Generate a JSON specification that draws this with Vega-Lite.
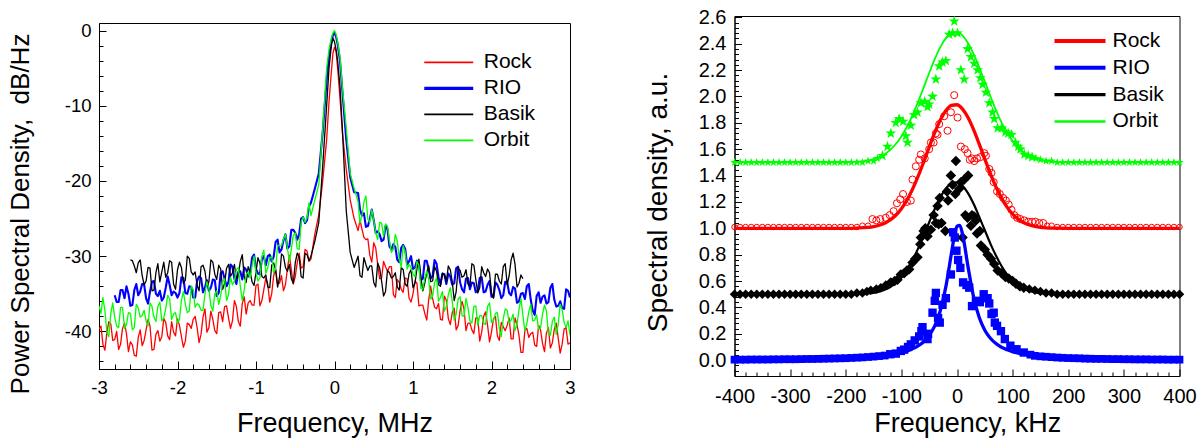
{
"$schema": "https://vega.github.io/schema/vega-lite/v6.json",
"padding": {"left": 7, "top": 6, "right": 5, "bottom": 5},
"bounds": "flush",
"center": true,
"spacing": 164.5,
"resolve": {"scale": {"color": "independent", "strokeWidth": "independent"}, "legend": {"color": "independent"}},
"config": {
  "font": "Liberation Sans",
  "view": {"stroke": "#000", "strokeWidth": 1},
  "axis": {"grid": false, "domainColor": "#000", "domainWidth": 1, "tickColor": "#000", "tickWidth": 1, "labelColor": "#000", "titleColor": "#000", "labelFont": "Liberation Sans", "titleFont": "Liberation Sans", "titleFontWeight": "normal", "labelFlush": false, "labelOverlap": false, "labelBound": false},
  "legend": {"labelFont": "Liberation Sans", "labelColor": "#000", "labelFontSize": 21, "padding": 0}
},
"datasets": {
"psd": [
{"s":"Rock","f":-3.00,"v":-39.7},{"s":"Rock","f":-2.95,"v":-41.7},{"s":"Rock","f":-2.90,"v":-40.2},{"s":"Rock","f":-2.85,"v":-39.0},{"s":"Rock","f":-2.80,"v":-41.1},{"s":"Rock","f":-2.75,"v":-42.4},{"s":"Rock","f":-2.70,"v":-39.6},{"s":"Rock","f":-2.65,"v":-40.3},{"s":"Rock","f":-2.60,"v":-41.4},{"s":"Rock","f":-2.55,"v":-43.2},{"s":"Rock","f":-2.50,"v":-40.8},{"s":"Rock","f":-2.45,"v":-41.9},{"s":"Rock","f":-2.40,"v":-39.8},{"s":"Rock","f":-2.35,"v":-39.3},{"s":"Rock","f":-2.30,"v":-42.4},{"s":"Rock","f":-2.25,"v":-39.9},{"s":"Rock","f":-2.20,"v":-40.7},{"s":"Rock","f":-2.15,"v":-38.8},{"s":"Rock","f":-2.10,"v":-41.1},{"s":"Rock","f":-2.05,"v":-40.1},{"s":"Rock","f":-2.00,"v":-38.3},{"s":"Rock","f":-1.95,"v":-40.7},{"s":"Rock","f":-1.90,"v":-41.3},{"s":"Rock","f":-1.85,"v":-39.1},{"s":"Rock","f":-1.80,"v":-38.4},{"s":"Rock","f":-1.75,"v":-39.5},{"s":"Rock","f":-1.70,"v":-40.4},{"s":"Rock","f":-1.65,"v":-37.0},{"s":"Rock","f":-1.60,"v":-39.5},{"s":"Rock","f":-1.55,"v":-38.4},{"s":"Rock","f":-1.50,"v":-40.3},{"s":"Rock","f":-1.45,"v":-37.4},{"s":"Rock","f":-1.40,"v":-36.7},{"s":"Rock","f":-1.35,"v":-38.2},{"s":"Rock","f":-1.30,"v":-38.6},{"s":"Rock","f":-1.25,"v":-36.7},{"s":"Rock","f":-1.20,"v":-39.3},{"s":"Rock","f":-1.15,"v":-35.4},{"s":"Rock","f":-1.10,"v":-36.2},{"s":"Rock","f":-1.05,"v":-36.5},{"s":"Rock","f":-1.00,"v":-33.9},{"s":"Rock","f":-0.95,"v":-36.6},{"s":"Rock","f":-0.90,"v":-34.4},{"s":"Rock","f":-0.85,"v":-33.7},{"s":"Rock","f":-0.80,"v":-35.0},{"s":"Rock","f":-0.75,"v":-31.7},{"s":"Rock","f":-0.70,"v":-33.6},{"s":"Rock","f":-0.65,"v":-34.6},{"s":"Rock","f":-0.60,"v":-31.7},{"s":"Rock","f":-0.55,"v":-31.8},{"s":"Rock","f":-0.50,"v":-32.7},{"s":"Rock","f":-0.45,"v":-29.6},{"s":"Rock","f":-0.40,"v":-31.4},{"s":"Rock","f":-0.35,"v":-29.3},{"s":"Rock","f":-0.30,"v":-30.4},
{"s":"Rock","f":-0.25,"v":-27.0},{"s":"Rock","f":-0.20,"v":-24.5},{"s":"Rock","f":-0.15,"v":-20.0},{"s":"Rock","f":-0.10,"v":-14.5},{"s":"Rock","f":-0.07,"v":-9.5},{"s":"Rock","f":-0.04,"v":-5.5},{"s":"Rock","f":-0.02,"v":-3.0},{"s":"Rock","f":0.00,"v":-2.2},{"s":"Rock","f":0.02,"v":-2.8},{"s":"Rock","f":0.04,"v":-5.0},{"s":"Rock","f":0.07,"v":-9.0},{"s":"Rock","f":0.10,"v":-13.5},{"s":"Rock","f":0.15,"v":-18.5},{"s":"Rock","f":0.20,"v":-22.5},{"s":"Rock","f":0.25,"v":-25.0},
{"s":"Rock","f":0.30,"v":-26.6},{"s":"Rock","f":0.35,"v":-26.4},{"s":"Rock","f":0.40,"v":-27.8},{"s":"Rock","f":0.45,"v":-29.9},{"s":"Rock","f":0.50,"v":-28.2},{"s":"Rock","f":0.55,"v":-31.1},{"s":"Rock","f":0.60,"v":-32.9},{"s":"Rock","f":0.65,"v":-31.4},{"s":"Rock","f":0.70,"v":-31.4},{"s":"Rock","f":0.75,"v":-35.1},{"s":"Rock","f":0.80,"v":-33.1},{"s":"Rock","f":0.85,"v":-34.4},{"s":"Rock","f":0.90,"v":-32.9},{"s":"Rock","f":0.95,"v":-35.6},{"s":"Rock","f":1.00,"v":-35.0},{"s":"Rock","f":1.05,"v":-33.6},{"s":"Rock","f":1.10,"v":-36.5},{"s":"Rock","f":1.15,"v":-37.6},{"s":"Rock","f":1.20,"v":-35.8},{"s":"Rock","f":1.25,"v":-35.6},{"s":"Rock","f":1.30,"v":-37.0},{"s":"Rock","f":1.35,"v":-38.4},{"s":"Rock","f":1.40,"v":-35.3},{"s":"Rock","f":1.45,"v":-38.3},{"s":"Rock","f":1.50,"v":-37.5},{"s":"Rock","f":1.55,"v":-39.8},{"s":"Rock","f":1.60,"v":-37.2},{"s":"Rock","f":1.65,"v":-37.0},{"s":"Rock","f":1.70,"v":-38.9},{"s":"Rock","f":1.75,"v":-39.8},{"s":"Rock","f":1.80,"v":-38.2},{"s":"Rock","f":1.85,"v":-41.3},{"s":"Rock","f":1.90,"v":-38.0},{"s":"Rock","f":1.95,"v":-39.2},{"s":"Rock","f":2.00,"v":-40.1},{"s":"Rock","f":2.05,"v":-38.0},{"s":"Rock","f":2.10,"v":-41.2},{"s":"Rock","f":2.15,"v":-39.4},{"s":"Rock","f":2.20,"v":-39.2},{"s":"Rock","f":2.25,"v":-41.0},{"s":"Rock","f":2.30,"v":-38.2},{"s":"Rock","f":2.35,"v":-40.5},{"s":"Rock","f":2.40,"v":-42.8},{"s":"Rock","f":2.45,"v":-39.6},{"s":"Rock","f":2.50,"v":-40.3},{"s":"Rock","f":2.55,"v":-41.8},{"s":"Rock","f":2.60,"v":-39.2},{"s":"Rock","f":2.65,"v":-41.6},{"s":"Rock","f":2.70,"v":-40.2},{"s":"Rock","f":2.75,"v":-42.2},{"s":"Rock","f":2.80,"v":-39.7},{"s":"Rock","f":2.85,"v":-40.9},{"s":"Rock","f":2.90,"v":-41.7},{"s":"Rock","f":2.95,"v":-39.5},{"s":"Rock","f":3.00,"v":-41.5},
{"s":"RIO","f":-2.80,"v":-35.2},{"s":"RIO","f":-2.75,"v":-36.1},{"s":"RIO","f":-2.70,"v":-34.5},{"s":"RIO","f":-2.65,"v":-34.0},{"s":"RIO","f":-2.60,"v":-36.6},{"s":"RIO","f":-2.55,"v":-34.5},{"s":"RIO","f":-2.50,"v":-35.2},{"s":"RIO","f":-2.45,"v":-33.7},{"s":"RIO","f":-2.40,"v":-35.6},{"s":"RIO","f":-2.35,"v":-34.7},{"s":"RIO","f":-2.30,"v":-33.3},{"s":"RIO","f":-2.25,"v":-35.3},{"s":"RIO","f":-2.20,"v":-35.9},{"s":"RIO","f":-2.15,"v":-34.2},{"s":"RIO","f":-2.10,"v":-33.8},{"s":"RIO","f":-2.05,"v":-34.7},{"s":"RIO","f":-2.00,"v":-35.5},{"s":"RIO","f":-1.95,"v":-32.8},{"s":"RIO","f":-1.90,"v":-34.9},{"s":"RIO","f":-1.85,"v":-34.0},{"s":"RIO","f":-1.80,"v":-35.5},{"s":"RIO","f":-1.75,"v":-33.3},{"s":"RIO","f":-1.70,"v":-32.9},{"s":"RIO","f":-1.65,"v":-34.1},{"s":"RIO","f":-1.60,"v":-34.6},{"s":"RIO","f":-1.55,"v":-33.1},{"s":"RIO","f":-1.50,"v":-35.3},{"s":"RIO","f":-1.45,"v":-32.3},{"s":"RIO","f":-1.40,"v":-33.0},{"s":"RIO","f":-1.35,"v":-33.4},{"s":"RIO","f":-1.30,"v":-31.4},{"s":"RIO","f":-1.25,"v":-33.7},{"s":"RIO","f":-1.20,"v":-32.0},{"s":"RIO","f":-1.15,"v":-31.5},{"s":"RIO","f":-1.10,"v":-32.7},{"s":"RIO","f":-1.05,"v":-30.2},{"s":"RIO","f":-1.00,"v":-31.7},{"s":"RIO","f":-0.95,"v":-32.4},{"s":"RIO","f":-0.90,"v":-30.0},{"s":"RIO","f":-0.85,"v":-30.0},{"s":"RIO","f":-0.80,"v":-30.7},{"s":"RIO","f":-0.75,"v":-28.1},{"s":"RIO","f":-0.70,"v":-29.5},{"s":"RIO","f":-0.65,"v":-27.9},{"s":"RIO","f":-0.60,"v":-29.0},{"s":"RIO","f":-0.55,"v":-26.5},{"s":"RIO","f":-0.50,"v":-26.9},{"s":"RIO","f":-0.45,"v":-27.1},{"s":"RIO","f":-0.40,"v":-24.8},{"s":"RIO","f":-0.35,"v":-25.2},{"s":"RIO","f":-0.30,"v":-22.9},
{"s":"RIO","f":-0.25,"v":-21.0},{"s":"RIO","f":-0.20,"v":-19.0},{"s":"RIO","f":-0.15,"v":-13.5},{"s":"RIO","f":-0.10,"v":-6.5},{"s":"RIO","f":-0.07,"v":-3.5},{"s":"RIO","f":-0.04,"v":-1.5},{"s":"RIO","f":-0.02,"v":-0.6},{"s":"RIO","f":0.00,"v":-0.3},{"s":"RIO","f":0.02,"v":-0.8},{"s":"RIO","f":0.04,"v":-1.8},{"s":"RIO","f":0.07,"v":-4.0},{"s":"RIO","f":0.10,"v":-8.0},{"s":"RIO","f":0.15,"v":-14.5},{"s":"RIO","f":0.20,"v":-19.5},{"s":"RIO","f":0.25,"v":-21.5},
{"s":"RIO","f":0.30,"v":-21.6},{"s":"RIO","f":0.35,"v":-24.6},{"s":"RIO","f":0.40,"v":-26.1},{"s":"RIO","f":0.45,"v":-25.1},{"s":"RIO","f":0.50,"v":-25.2},{"s":"RIO","f":0.55,"v":-26.7},{"s":"RIO","f":0.60,"v":-28.0},{"s":"RIO","f":0.65,"v":-26.0},{"s":"RIO","f":0.70,"v":-28.7},{"s":"RIO","f":0.75,"v":-28.4},{"s":"RIO","f":0.80,"v":-30.5},{"s":"RIO","f":0.85,"v":-28.9},{"s":"RIO","f":0.90,"v":-29.0},{"s":"RIO","f":0.95,"v":-30.7},{"s":"RIO","f":1.00,"v":-31.7},{"s":"RIO","f":1.05,"v":-30.6},{"s":"RIO","f":1.10,"v":-33.2},{"s":"RIO","f":1.15,"v":-30.6},{"s":"RIO","f":1.20,"v":-31.8},{"s":"RIO","f":1.25,"v":-32.6},{"s":"RIO","f":1.30,"v":-31.0},{"s":"RIO","f":1.35,"v":-33.7},{"s":"RIO","f":1.40,"v":-32.4},{"s":"RIO","f":1.45,"v":-32.3},{"s":"RIO","f":1.50,"v":-33.8},{"s":"RIO","f":1.55,"v":-31.6},{"s":"RIO","f":1.60,"v":-33.5},{"s":"RIO","f":1.65,"v":-34.8},{"s":"RIO","f":1.70,"v":-32.9},{"s":"RIO","f":1.75,"v":-33.5},{"s":"RIO","f":1.80,"v":-34.8},{"s":"RIO","f":1.85,"v":-32.9},{"s":"RIO","f":1.90,"v":-34.8},{"s":"RIO","f":1.95,"v":-33.8},{"s":"RIO","f":2.00,"v":-35.4},{"s":"RIO","f":2.05,"v":-33.5},{"s":"RIO","f":2.10,"v":-34.5},{"s":"RIO","f":2.15,"v":-35.2},{"s":"RIO","f":2.20,"v":-33.5},{"s":"RIO","f":2.25,"v":-35.2},{"s":"RIO","f":2.30,"v":-34.3},{"s":"RIO","f":2.35,"v":-36.0},{"s":"RIO","f":2.40,"v":-34.9},{"s":"RIO","f":2.45,"v":-34.0},{"s":"RIO","f":2.50,"v":-35.8},{"s":"RIO","f":2.55,"v":-37.8},{"s":"RIO","f":2.60,"v":-34.8},{"s":"RIO","f":2.65,"v":-35.4},{"s":"RIO","f":2.70,"v":-36.3},{"s":"RIO","f":2.75,"v":-34.2},{"s":"RIO","f":2.80,"v":-35.8},{"s":"RIO","f":2.85,"v":-36.6},{"s":"RIO","f":2.90,"v":-36.9},{"s":"RIO","f":2.95,"v":-34.4},{"s":"RIO","f":3.00,"v":-35.5},
{"s":"Basik","f":-2.60,"v":-30.5},{"s":"Basik","f":-2.55,"v":-31.3},{"s":"Basik","f":-2.50,"v":-30.9},{"s":"Basik","f":-2.45,"v":-32.6},{"s":"Basik","f":-2.40,"v":-33.3},{"s":"Basik","f":-2.35,"v":-31.6},{"s":"Basik","f":-2.30,"v":-34.5},{"s":"Basik","f":-2.25,"v":-31.0},{"s":"Basik","f":-2.20,"v":-32.1},{"s":"Basik","f":-2.15,"v":-32.8},{"s":"Basik","f":-2.10,"v":-30.6},{"s":"Basik","f":-2.05,"v":-33.7},{"s":"Basik","f":-2.00,"v":-31.8},{"s":"Basik","f":-1.95,"v":-31.5},{"s":"Basik","f":-1.90,"v":-33.2},{"s":"Basik","f":-1.85,"v":-30.3},{"s":"Basik","f":-1.80,"v":-32.5},{"s":"Basik","f":-1.75,"v":-33.9},{"s":"Basik","f":-1.70,"v":-31.4},{"s":"Basik","f":-1.65,"v":-32.0},{"s":"Basik","f":-1.60,"v":-33.4},{"s":"Basik","f":-1.55,"v":-30.8},{"s":"Basik","f":-1.50,"v":-33.1},{"s":"Basik","f":-1.45,"v":-31.7},{"s":"Basik","f":-1.40,"v":-33.6},{"s":"Basik","f":-1.35,"v":-31.1},{"s":"Basik","f":-1.30,"v":-32.2},{"s":"Basik","f":-1.25,"v":-33.0},{"s":"Basik","f":-1.20,"v":-30.7},{"s":"Basik","f":-1.15,"v":-32.7},{"s":"Basik","f":-1.10,"v":-31.4},{"s":"Basik","f":-1.05,"v":-33.4},{"s":"Basik","f":-1.00,"v":-32.1},{"s":"Basik","f":-0.95,"v":-30.9},{"s":"Basik","f":-0.90,"v":-32.9},{"s":"Basik","f":-0.85,"v":-34.1},{"s":"Basik","f":-0.80,"v":-31.2},{"s":"Basik","f":-0.75,"v":-31.8},{"s":"Basik","f":-0.70,"v":-32.8},{"s":"Basik","f":-0.65,"v":-30.0},{"s":"Basik","f":-0.60,"v":-32.0},{"s":"Basik","f":-0.55,"v":-33.0},{"s":"Basik","f":-0.50,"v":-30.9},{"s":"Basik","f":-0.45,"v":-30.1},{"s":"Basik","f":-0.40,"v":-32.9},{"s":"Basik","f":-0.35,"v":-29.8},{"s":"Basik","f":-0.30,"v":-30.0},
{"s":"Basik","f":-0.25,"v":-28.0},{"s":"Basik","f":-0.20,"v":-25.5},{"s":"Basik","f":-0.15,"v":-18.0},{"s":"Basik","f":-0.10,"v":-10.0},{"s":"Basik","f":-0.07,"v":-5.0},{"s":"Basik","f":-0.04,"v":-2.0},{"s":"Basik","f":-0.02,"v":-1.0},{"s":"Basik","f":0.00,"v":-1.5},{"s":"Basik","f":0.02,"v":-2.5},{"s":"Basik","f":0.04,"v":-4.0},{"s":"Basik","f":0.07,"v":-7.5},{"s":"Basik","f":0.10,"v":-13.0},{"s":"Basik","f":0.15,"v":-24.0},{"s":"Basik","f":0.20,"v":-29.5},{"s":"Basik","f":0.25,"v":-31.5},
{"s":"Basik","f":0.30,"v":-30.0},{"s":"Basik","f":0.35,"v":-32.8},{"s":"Basik","f":0.40,"v":-31.1},{"s":"Basik","f":0.45,"v":-31.3},{"s":"Basik","f":0.50,"v":-33.5},{"s":"Basik","f":0.55,"v":-30.9},{"s":"Basik","f":0.60,"v":-33.3},{"s":"Basik","f":0.65,"v":-34.7},{"s":"Basik","f":0.70,"v":-32.2},{"s":"Basik","f":0.75,"v":-32.7},{"s":"Basik","f":0.80,"v":-34.1},{"s":"Basik","f":0.85,"v":-31.5},{"s":"Basik","f":0.90,"v":-33.7},{"s":"Basik","f":0.95,"v":-32.3},{"s":"Basik","f":1.00,"v":-34.2},{"s":"Basik","f":1.05,"v":-31.7},{"s":"Basik","f":1.10,"v":-32.8},{"s":"Basik","f":1.15,"v":-33.6},{"s":"Basik","f":1.20,"v":-31.3},{"s":"Basik","f":1.25,"v":-33.3},{"s":"Basik","f":1.30,"v":-32.0},{"s":"Basik","f":1.35,"v":-34.0},{"s":"Basik","f":1.40,"v":-32.5},{"s":"Basik","f":1.45,"v":-31.3},{"s":"Basik","f":1.50,"v":-33.4},{"s":"Basik","f":1.55,"v":-34.7},{"s":"Basik","f":1.60,"v":-31.9},{"s":"Basik","f":1.65,"v":-32.6},{"s":"Basik","f":1.70,"v":-33.7},{"s":"Basik","f":1.75,"v":-31.0},{"s":"Basik","f":1.80,"v":-33.1},{"s":"Basik","f":1.85,"v":-34.2},{"s":"Basik","f":1.90,"v":-32.2},{"s":"Basik","f":1.95,"v":-31.7},{"s":"Basik","f":2.00,"v":-34.9},{"s":"Basik","f":2.05,"v":-32.4},{"s":"Basik","f":2.10,"v":-33.3},{"s":"Basik","f":2.15,"v":-31.4},{"s":"Basik","f":2.20,"v":-33.8},{"s":"Basik","f":2.25,"v":-30.5},{"s":"Basik","f":2.30,"v":-31.1},{"s":"Basik","f":2.35,"v":-33.6},{"s":"Basik","f":2.40,"v":-33.0},
{"s":"Orbit","f":-3.00,"v":-36.6},{"s":"Orbit","f":-2.95,"v":-35.5},{"s":"Orbit","f":-2.90,"v":-40.1},{"s":"Orbit","f":-2.85,"v":-37.6},{"s":"Orbit","f":-2.80,"v":-38.1},{"s":"Orbit","f":-2.75,"v":-39.5},{"s":"Orbit","f":-2.70,"v":-36.8},{"s":"Orbit","f":-2.65,"v":-39.1},{"s":"Orbit","f":-2.60,"v":-37.6},{"s":"Orbit","f":-2.55,"v":-39.5},{"s":"Orbit","f":-2.50,"v":-36.9},{"s":"Orbit","f":-2.45,"v":-37.9},{"s":"Orbit","f":-2.40,"v":-38.6},{"s":"Orbit","f":-2.35,"v":-36.2},{"s":"Orbit","f":-2.30,"v":-38.1},{"s":"Orbit","f":-2.25,"v":-36.7},{"s":"Orbit","f":-2.20,"v":-38.6},{"s":"Orbit","f":-2.15,"v":-37.0},{"s":"Orbit","f":-2.10,"v":-35.7},{"s":"Orbit","f":-2.05,"v":-37.7},{"s":"Orbit","f":-2.00,"v":-38.9},{"s":"Orbit","f":-1.95,"v":-35.9},{"s":"Orbit","f":-1.90,"v":-36.4},{"s":"Orbit","f":-1.85,"v":-37.3},{"s":"Orbit","f":-1.80,"v":-34.4},{"s":"Orbit","f":-1.75,"v":-36.3},{"s":"Orbit","f":-1.70,"v":-37.2},{"s":"Orbit","f":-1.65,"v":-35.0},{"s":"Orbit","f":-1.60,"v":-34.3},{"s":"Orbit","f":-1.55,"v":-37.3},{"s":"Orbit","f":-1.50,"v":-34.6},{"s":"Orbit","f":-1.45,"v":-35.2},{"s":"Orbit","f":-1.40,"v":-33.0},{"s":"Orbit","f":-1.35,"v":-35.1},{"s":"Orbit","f":-1.30,"v":-33.8},{"s":"Orbit","f":-1.25,"v":-31.8},{"s":"Orbit","f":-1.20,"v":-34.0},{"s":"Orbit","f":-1.15,"v":-34.5},{"s":"Orbit","f":-1.10,"v":-32.1},{"s":"Orbit","f":-1.05,"v":-31.3},{"s":"Orbit","f":-1.00,"v":-32.2},{"s":"Orbit","f":-0.95,"v":-32.9},{"s":"Orbit","f":-0.90,"v":-29.2},{"s":"Orbit","f":-0.85,"v":-31.5},{"s":"Orbit","f":-0.80,"v":-30.0},{"s":"Orbit","f":-0.75,"v":-31.7},{"s":"Orbit","f":-0.70,"v":-28.6},{"s":"Orbit","f":-0.65,"v":-27.7},{"s":"Orbit","f":-0.60,"v":-28.9},{"s":"Orbit","f":-0.55,"v":-29.1},{"s":"Orbit","f":-0.50,"v":-26.9},{"s":"Orbit","f":-0.45,"v":-29.1},{"s":"Orbit","f":-0.40,"v":-24.8},{"s":"Orbit","f":-0.35,"v":-24.9},{"s":"Orbit","f":-0.30,"v":-24.6},
{"s":"Orbit","f":-0.25,"v":-22.5},{"s":"Orbit","f":-0.20,"v":-20.5},{"s":"Orbit","f":-0.15,"v":-13.0},{"s":"Orbit","f":-0.10,"v":-5.0},{"s":"Orbit","f":-0.07,"v":-2.5},{"s":"Orbit","f":-0.04,"v":-1.0},{"s":"Orbit","f":-0.02,"v":-0.3},{"s":"Orbit","f":0.00,"v":0.0},{"s":"Orbit","f":0.02,"v":-0.5},{"s":"Orbit","f":0.04,"v":-1.5},{"s":"Orbit","f":0.07,"v":-3.5},{"s":"Orbit","f":0.10,"v":-7.5},{"s":"Orbit","f":0.15,"v":-13.0},{"s":"Orbit","f":0.20,"v":-19.0},{"s":"Orbit","f":0.25,"v":-21.0},
{"s":"Orbit","f":0.30,"v":-22.7},{"s":"Orbit","f":0.35,"v":-24.6},{"s":"Orbit","f":0.40,"v":-22.0},{"s":"Orbit","f":0.45,"v":-25.5},{"s":"Orbit","f":0.50,"v":-25.2},{"s":"Orbit","f":0.55,"v":-27.8},{"s":"Orbit","f":0.60,"v":-25.6},{"s":"Orbit","f":0.65,"v":-25.7},{"s":"Orbit","f":0.70,"v":-27.9},{"s":"Orbit","f":0.75,"v":-29.1},{"s":"Orbit","f":0.80,"v":-28.0},{"s":"Orbit","f":0.85,"v":-31.5},{"s":"Orbit","f":0.90,"v":-29.4},{"s":"Orbit","f":0.95,"v":-31.1},{"s":"Orbit","f":1.00,"v":-32.4},{"s":"Orbit","f":1.05,"v":-30.7},{"s":"Orbit","f":1.10,"v":-34.3},{"s":"Orbit","f":1.15,"v":-32.9},{"s":"Orbit","f":1.20,"v":-33.1},{"s":"Orbit","f":1.25,"v":-35.3},{"s":"Orbit","f":1.30,"v":-32.9},{"s":"Orbit","f":1.35,"v":-35.5},{"s":"Orbit","f":1.40,"v":-37.3},{"s":"Orbit","f":1.45,"v":-35.1},{"s":"Orbit","f":1.50,"v":-36.0},{"s":"Orbit","f":1.55,"v":-37.7},{"s":"Orbit","f":1.60,"v":-35.4},{"s":"Orbit","f":1.65,"v":-38.0},{"s":"Orbit","f":1.70,"v":-36.8},{"s":"Orbit","f":1.75,"v":-38.9},{"s":"Orbit","f":1.80,"v":-36.6},{"s":"Orbit","f":1.85,"v":-37.9},{"s":"Orbit","f":1.90,"v":-38.9},{"s":"Orbit","f":1.95,"v":-36.7},{"s":"Orbit","f":2.00,"v":-38.8},{"s":"Orbit","f":2.05,"v":-37.6},{"s":"Orbit","f":2.10,"v":-39.7},{"s":"Orbit","f":2.15,"v":-38.3},{"s":"Orbit","f":2.20,"v":-37.2},{"s":"Orbit","f":2.25,"v":-38.5},{"s":"Orbit","f":2.30,"v":-39.9},{"s":"Orbit","f":2.35,"v":-37.1},{"s":"Orbit","f":2.40,"v":-37.9},{"s":"Orbit","f":2.45,"v":-39.0},{"s":"Orbit","f":2.50,"v":-36.4},{"s":"Orbit","f":2.55,"v":-38.5},{"s":"Orbit","f":2.60,"v":-39.7},{"s":"Orbit","f":2.65,"v":-37.7},{"s":"Orbit","f":2.70,"v":-37.3},{"s":"Orbit","f":2.75,"v":-40.5},{"s":"Orbit","f":2.80,"v":-38.1},{"s":"Orbit","f":2.85,"v":-39.0},{"s":"Orbit","f":2.90,"v":-37.1},{"s":"Orbit","f":2.95,"v":-39.5},{"s":"Orbit","f":3.00,"v":-40.5},
{"s":"Rock","f":-2.975,"v":-39.3},{"s":"Rock","f":-2.925,"v":-42.5},{"s":"Rock","f":-2.875,"v":-38.7},{"s":"Rock","f":-2.825,"v":-41.2},{"s":"Rock","f":-2.775,"v":-40.0},{"s":"Rock","f":-2.725,"v":-41.7},{"s":"Rock","f":-2.675,"v":-38.9},{"s":"Rock","f":-2.625,"v":-42.7},{"s":"Rock","f":-2.575,"v":-41.8},{"s":"Rock","f":-2.525,"v":-43.3},{"s":"Rock","f":-2.475,"v":-39.8},{"s":"Rock","f":-2.425,"v":-41.2},{"s":"Rock","f":-2.375,"v":-38.4},{"s":"Rock","f":-2.325,"v":-42.5},{"s":"Rock","f":-2.275,"v":-40.4},{"s":"Rock","f":-2.225,"v":-41.3},{"s":"Rock","f":-2.175,"v":-38.3},{"s":"Rock","f":-2.125,"v":-40.6},{"s":"Rock","f":-2.075,"v":-38.7},{"s":"Rock","f":-2.025,"v":-40.6},{"s":"Rock","f":-1.975,"v":-39.2},{"s":"Rock","f":-1.925,"v":-42.1},{"s":"Rock","f":-1.875,"v":-38.9},{"s":"Rock","f":-1.825,"v":-39.6},{"s":"Rock","f":-1.775,"v":-38.0},{"s":"Rock","f":-1.725,"v":-41.5},{"s":"Rock","f":-1.675,"v":-38.1},{"s":"Rock","f":-1.625,"v":-40.1},{"s":"Rock","f":-1.575,"v":-37.3},{"s":"Rock","f":-1.525,"v":-39.9},{"s":"Rock","f":-1.475,"v":-37.5},{"s":"Rock","f":-1.425,"v":-38.7},{"s":"Rock","f":-1.375,"v":-36.6},{"s":"Rock","f":-1.325,"v":-39.6},{"s":"Rock","f":-1.275,"v":-35.9},{"s":"Rock","f":-1.225,"v":-38.7},{"s":"Rock","f":-1.175,"v":-36.3},{"s":"Rock","f":-1.125,"v":-37.7},{"s":"Rock","f":-1.075,"v":-35.9},{"s":"Rock","f":-1.025,"v":-36.5},{"s":"Rock","f":-0.975,"v":-33.7},{"s":"Rock","f":-0.925,"v":-35.9},{"s":"Rock","f":-0.875,"v":-32.9},{"s":"Rock","f":-0.825,"v":-36.1},{"s":"Rock","f":-0.775,"v":-32.6},{"s":"Rock","f":-0.725,"v":-33.7},{"s":"Rock","f":-0.675,"v":-32.6},{"s":"Rock","f":-0.625,"v":-33.8},{"s":"Rock","f":-0.575,"v":-29.9},{"s":"Rock","f":-0.525,"v":-33.7},{"s":"Rock","f":-0.475,"v":-30.9},{"s":"Rock","f":-0.425,"v":-31.6},{"s":"Rock","f":-0.375,"v":-29.1},{"s":"Rock","f":-0.325,"v":-30.7},
{"s":"Rock","f":0.325,"v":-25.2},{"s":"Rock","f":0.375,"v":-27.5},{"s":"Rock","f":0.425,"v":-27.7},{"s":"Rock","f":0.475,"v":-30.8},{"s":"Rock","f":0.525,"v":-28.9},{"s":"Rock","f":0.575,"v":-33.0},{"s":"Rock","f":0.625,"v":-30.7},{"s":"Rock","f":0.675,"v":-32.0},{"s":"Rock","f":0.725,"v":-31.4},{"s":"Rock","f":0.775,"v":-35.5},{"s":"Rock","f":0.825,"v":-33.5},{"s":"Rock","f":0.875,"v":-34.8},{"s":"Rock","f":0.925,"v":-33.0},{"s":"Rock","f":0.975,"v":-36.1},{"s":"Rock","f":1.025,"v":-33.3},{"s":"Rock","f":1.075,"v":-36.6},{"s":"Rock","f":1.125,"v":-36.5},{"s":"Rock","f":1.175,"v":-38.5},{"s":"Rock","f":1.225,"v":-34.0},{"s":"Rock","f":1.275,"v":-36.8},{"s":"Rock","f":1.325,"v":-36.3},{"s":"Rock","f":1.375,"v":-38.5},{"s":"Rock","f":1.425,"v":-35.9},{"s":"Rock","f":1.475,"v":-39.1},{"s":"Rock","f":1.525,"v":-36.9},{"s":"Rock","f":1.575,"v":-39.2},{"s":"Rock","f":1.625,"v":-36.0},{"s":"Rock","f":1.675,"v":-39.9},{"s":"Rock","f":1.725,"v":-38.9},{"s":"Rock","f":1.775,"v":-40.3},{"s":"Rock","f":1.825,"v":-38.2},{"s":"Rock","f":1.875,"v":-40.1},{"s":"Rock","f":1.925,"v":-37.4},{"s":"Rock","f":1.975,"v":-41.4},{"s":"Rock","f":2.025,"v":-38.3},{"s":"Rock","f":2.075,"v":-40.6},{"s":"Rock","f":2.125,"v":-38.8},{"s":"Rock","f":2.175,"v":-39.9},{"s":"Rock","f":2.225,"v":-38.2},{"s":"Rock","f":2.275,"v":-41.0},{"s":"Rock","f":2.325,"v":-39.1},{"s":"Rock","f":2.375,"v":-42.8},{"s":"Rock","f":2.425,"v":-39.9},{"s":"Rock","f":2.475,"v":-40.8},{"s":"Rock","f":2.525,"v":-40.1},{"s":"Rock","f":2.575,"v":-42.0},{"s":"Rock","f":2.625,"v":-39.8},{"s":"Rock","f":2.675,"v":-42.7},{"s":"Rock","f":2.725,"v":-39.5},{"s":"Rock","f":2.775,"v":-41.5},{"s":"Rock","f":2.825,"v":-38.9},{"s":"Rock","f":2.875,"v":-42.9},{"s":"Rock","f":2.925,"v":-39.7},{"s":"Rock","f":2.975,"v":-41.7},
{"s":"RIO","f":-2.775,"v":-36.1},{"s":"RIO","f":-2.725,"v":-34.5},{"s":"RIO","f":-2.675,"v":-35.6},{"s":"RIO","f":-2.625,"v":-35.0},{"s":"RIO","f":-2.575,"v":-36.5},{"s":"RIO","f":-2.525,"v":-33.7},{"s":"RIO","f":-2.475,"v":-34.7},{"s":"RIO","f":-2.425,"v":-33.8},{"s":"RIO","f":-2.375,"v":-36.3},{"s":"RIO","f":-2.325,"v":-33.4},{"s":"RIO","f":-2.275,"v":-35.0},{"s":"RIO","f":-2.225,"v":-34.6},{"s":"RIO","f":-2.175,"v":-35.5},{"s":"RIO","f":-2.125,"v":-32.7},{"s":"RIO","f":-2.075,"v":-35.2},{"s":"RIO","f":-2.025,"v":-34.9},{"s":"RIO","f":-1.975,"v":-34.9},{"s":"RIO","f":-1.925,"v":-32.9},{"s":"RIO","f":-1.875,"v":-35.0},{"s":"RIO","f":-1.825,"v":-34.1},{"s":"RIO","f":-1.775,"v":-35.5},{"s":"RIO","f":-1.725,"v":-32.7},{"s":"RIO","f":-1.675,"v":-34.8},{"s":"RIO","f":-1.625,"v":-33.2},{"s":"RIO","f":-1.575,"v":-34.2},{"s":"RIO","f":-1.525,"v":-33.2},{"s":"RIO","f":-1.475,"v":-34.9},{"s":"RIO","f":-1.425,"v":-32.0},{"s":"RIO","f":-1.375,"v":-34.0},{"s":"RIO","f":-1.325,"v":-31.1},{"s":"RIO","f":-1.275,"v":-33.0},{"s":"RIO","f":-1.225,"v":-32.1},{"s":"RIO","f":-1.175,"v":-33.1},{"s":"RIO","f":-1.125,"v":-31.8},{"s":"RIO","f":-1.075,"v":-32.4},{"s":"RIO","f":-1.025,"v":-29.8},{"s":"RIO","f":-0.975,"v":-32.3},{"s":"RIO","f":-0.925,"v":-30.4},{"s":"RIO","f":-0.875,"v":-31.2},{"s":"RIO","f":-0.825,"v":-29.8},{"s":"RIO","f":-0.775,"v":-30.1},{"s":"RIO","f":-0.725,"v":-27.8},{"s":"RIO","f":-0.675,"v":-29.1},{"s":"RIO","f":-0.625,"v":-27.1},{"s":"RIO","f":-0.575,"v":-28.7},{"s":"RIO","f":-0.525,"v":-26.5},{"s":"RIO","f":-0.475,"v":-27.8},{"s":"RIO","f":-0.425,"v":-25.0},{"s":"RIO","f":-0.375,"v":-25.6},{"s":"RIO","f":-0.325,"v":-23.4},
{"s":"RIO","f":0.325,"v":-23.8},{"s":"RIO","f":0.375,"v":-24.3},{"s":"RIO","f":0.425,"v":-26.0},{"s":"RIO","f":0.475,"v":-23.8},{"s":"RIO","f":0.525,"v":-26.9},{"s":"RIO","f":0.575,"v":-27.1},{"s":"RIO","f":0.625,"v":-27.8},{"s":"RIO","f":0.675,"v":-26.4},{"s":"RIO","f":0.725,"v":-29.1},{"s":"RIO","f":0.775,"v":-28.8},{"s":"RIO","f":0.825,"v":-30.8},{"s":"RIO","f":0.875,"v":-28.5},{"s":"RIO","f":0.925,"v":-31.1},{"s":"RIO","f":0.975,"v":-30.0},{"s":"RIO","f":1.025,"v":-31.5},{"s":"RIO","f":1.075,"v":-30.9},{"s":"RIO","f":1.125,"v":-33.0},{"s":"RIO","f":1.175,"v":-30.6},{"s":"RIO","f":1.225,"v":-33.0},{"s":"RIO","f":1.275,"v":-30.5},{"s":"RIO","f":1.325,"v":-32.8},{"s":"RIO","f":1.375,"v":-32.3},{"s":"RIO","f":1.425,"v":-33.7},{"s":"RIO","f":1.475,"v":-32.7},{"s":"RIO","f":1.525,"v":-33.6},{"s":"RIO","f":1.575,"v":-31.4},{"s":"RIO","f":1.625,"v":-34.4},{"s":"RIO","f":1.675,"v":-33.0},{"s":"RIO","f":1.725,"v":-34.4},{"s":"RIO","f":1.775,"v":-33.6},{"s":"RIO","f":1.825,"v":-34.6},{"s":"RIO","f":1.875,"v":-32.8},{"s":"RIO","f":1.925,"v":-34.7},{"s":"RIO","f":1.975,"v":-33.3},{"s":"RIO","f":2.025,"v":-35.4},{"s":"RIO","f":2.075,"v":-33.8},{"s":"RIO","f":2.125,"v":-35.6},{"s":"RIO","f":2.175,"v":-33.4},{"s":"RIO","f":2.225,"v":-34.9},{"s":"RIO","f":2.275,"v":-34.1},{"s":"RIO","f":2.325,"v":-36.2},{"s":"RIO","f":2.375,"v":-35.0},{"s":"RIO","f":2.425,"v":-35.7},{"s":"RIO","f":2.475,"v":-33.7},{"s":"RIO","f":2.525,"v":-37.2},{"s":"RIO","f":2.575,"v":-35.3},{"s":"RIO","f":2.625,"v":-36.2},{"s":"RIO","f":2.675,"v":-35.2},{"s":"RIO","f":2.725,"v":-36.1},{"s":"RIO","f":2.775,"v":-33.7},{"s":"RIO","f":2.825,"v":-36.7},{"s":"RIO","f":2.875,"v":-36.0},{"s":"RIO","f":2.925,"v":-37.0},{"s":"RIO","f":2.975,"v":-34.6},
{"s":"Basik","f":-2.575,"v":-30.6},{"s":"Basik","f":-2.525,"v":-32.2},{"s":"Basik","f":-2.475,"v":-30.5},{"s":"Basik","f":-2.425,"v":-33.8},{"s":"Basik","f":-2.375,"v":-31.5},{"s":"Basik","f":-2.325,"v":-34.6},{"s":"Basik","f":-2.275,"v":-32.2},{"s":"Basik","f":-2.225,"v":-33.4},{"s":"Basik","f":-2.175,"v":-30.8},{"s":"Basik","f":-2.125,"v":-32.2},{"s":"Basik","f":-2.075,"v":-30.8},{"s":"Basik","f":-2.025,"v":-34.4},{"s":"Basik","f":-1.975,"v":-30.8},{"s":"Basik","f":-1.925,"v":-33.6},{"s":"Basik","f":-1.875,"v":-30.0},{"s":"Basik","f":-1.825,"v":-32.1},{"s":"Basik","f":-1.775,"v":-32.1},{"s":"Basik","f":-1.725,"v":-34.6},{"s":"Basik","f":-1.675,"v":-31.2},{"s":"Basik","f":-1.625,"v":-34.0},{"s":"Basik","f":-1.575,"v":-30.5},{"s":"Basik","f":-1.525,"v":-32.4},{"s":"Basik","f":-1.475,"v":-31.2},{"s":"Basik","f":-1.425,"v":-34.4},{"s":"Basik","f":-1.375,"v":-31.6},{"s":"Basik","f":-1.325,"v":-32.7},{"s":"Basik","f":-1.275,"v":-31.1},{"s":"Basik","f":-1.225,"v":-32.5},{"s":"Basik","f":-1.175,"v":-29.8},{"s":"Basik","f":-1.125,"v":-33.5},{"s":"Basik","f":-1.075,"v":-32.1},{"s":"Basik","f":-1.025,"v":-33.9},{"s":"Basik","f":-0.975,"v":-30.2},{"s":"Basik","f":-0.925,"v":-32.7},{"s":"Basik","f":-0.875,"v":-32.5},{"s":"Basik","f":-0.825,"v":-34.2},{"s":"Basik","f":-0.775,"v":-30.9},{"s":"Basik","f":-0.725,"v":-34.1},{"s":"Basik","f":-0.675,"v":-29.7},{"s":"Basik","f":-0.625,"v":-31.5},{"s":"Basik","f":-0.575,"v":-31.1},{"s":"Basik","f":-0.525,"v":-33.6},{"s":"Basik","f":-0.475,"v":-29.6},{"s":"Basik","f":-0.425,"v":-32.7},{"s":"Basik","f":-0.375,"v":-29.6},{"s":"Basik","f":-0.325,"v":-30.6},
{"s":"Basik","f":0.325,"v":-32.6},{"s":"Basik","f":0.375,"v":-30.2},{"s":"Basik","f":0.425,"v":-31.9},{"s":"Basik","f":0.475,"v":-31.3},{"s":"Basik","f":0.525,"v":-34.1},{"s":"Basik","f":0.575,"v":-31.6},{"s":"Basik","f":0.625,"v":-35.3},{"s":"Basik","f":0.675,"v":-31.9},{"s":"Basik","f":0.725,"v":-32.9},{"s":"Basik","f":0.775,"v":-32.2},{"s":"Basik","f":0.825,"v":-34.5},{"s":"Basik","f":0.875,"v":-31.8},{"s":"Basik","f":0.925,"v":-34.0},{"s":"Basik","f":0.975,"v":-31.8},{"s":"Basik","f":1.025,"v":-33.6},{"s":"Basik","f":1.075,"v":-30.4},{"s":"Basik","f":1.125,"v":-34.6},{"s":"Basik","f":1.175,"v":-32.2},{"s":"Basik","f":1.225,"v":-33.4},{"s":"Basik","f":1.275,"v":-31.4},{"s":"Basik","f":1.325,"v":-33.8},{"s":"Basik","f":1.375,"v":-32.3},{"s":"Basik","f":1.425,"v":-33.4},{"s":"Basik","f":1.475,"v":-31.8},{"s":"Basik","f":1.525,"v":-35.9},{"s":"Basik","f":1.575,"v":-31.6},{"s":"Basik","f":1.625,"v":-32.8},{"s":"Basik","f":1.675,"v":-31.8},{"s":"Basik","f":1.725,"v":-34.0},{"s":"Basik","f":1.775,"v":-31.2},{"s":"Basik","f":1.825,"v":-34.9},{"s":"Basik","f":1.875,"v":-31.4},{"s":"Basik","f":1.925,"v":-32.7},{"s":"Basik","f":1.975,"v":-32.2},{"s":"Basik","f":2.025,"v":-35.6},{"s":"Basik","f":2.075,"v":-32.4},{"s":"Basik","f":2.125,"v":-33.7},{"s":"Basik","f":2.175,"v":-31.0},{"s":"Basik","f":2.225,"v":-32.6},{"s":"Basik","f":2.275,"v":-29.6},{"s":"Basik","f":2.325,"v":-34.1},{"s":"Basik","f":2.375,"v":-32.5},
{"s":"Orbit","f":-2.975,"v":-37.6},{"s":"Orbit","f":-2.925,"v":-37.2},{"s":"Orbit","f":-2.875,"v":-40.7},{"s":"Orbit","f":-2.825,"v":-36.2},{"s":"Orbit","f":-2.775,"v":-39.3},{"s":"Orbit","f":-2.725,"v":-36.8},{"s":"Orbit","f":-2.675,"v":-39.6},{"s":"Orbit","f":-2.625,"v":-37.5},{"s":"Orbit","f":-2.575,"v":-39.8},{"s":"Orbit","f":-2.525,"v":-36.4},{"s":"Orbit","f":-2.475,"v":-38.1},{"s":"Orbit","f":-2.425,"v":-37.2},{"s":"Orbit","f":-2.375,"v":-39.3},{"s":"Orbit","f":-2.325,"v":-36.7},{"s":"Orbit","f":-2.275,"v":-38.7},{"s":"Orbit","f":-2.225,"v":-36.1},{"s":"Orbit","f":-2.175,"v":-38.2},{"s":"Orbit","f":-2.125,"v":-35.2},{"s":"Orbit","f":-2.075,"v":-38.4},{"s":"Orbit","f":-2.025,"v":-37.5},{"s":"Orbit","f":-1.975,"v":-38.4},{"s":"Orbit","f":-1.925,"v":-34.7},{"s":"Orbit","f":-1.875,"v":-37.5},{"s":"Orbit","f":-1.825,"v":-34.0},{"s":"Orbit","f":-1.775,"v":-36.8},{"s":"Orbit","f":-1.725,"v":-36.5},{"s":"Orbit","f":-1.675,"v":-37.2},{"s":"Orbit","f":-1.625,"v":-33.4},{"s":"Orbit","f":-1.575,"v":-36.6},{"s":"Orbit","f":-1.525,"v":-35.0},{"s":"Orbit","f":-1.475,"v":-36.4},{"s":"Orbit","f":-1.425,"v":-33.5},{"s":"Orbit","f":-1.375,"v":-35.9},{"s":"Orbit","f":-1.325,"v":-32.8},{"s":"Orbit","f":-1.275,"v":-33.3},{"s":"Orbit","f":-1.225,"v":-31.5},{"s":"Orbit","f":-1.175,"v":-35.9},{"s":"Orbit","f":-1.125,"v":-32.4},{"s":"Orbit","f":-1.075,"v":-32.9},{"s":"Orbit","f":-1.025,"v":-30.0},{"s":"Orbit","f":-0.975,"v":-33.3},{"s":"Orbit","f":-0.925,"v":-30.0},{"s":"Orbit","f":-0.875,"v":-32.3},{"s":"Orbit","f":-0.825,"v":-30.3},{"s":"Orbit","f":-0.775,"v":-32.2},{"s":"Orbit","f":-0.725,"v":-28.6},{"s":"Orbit","f":-0.675,"v":-28.6},{"s":"Orbit","f":-0.625,"v":-27.1},{"s":"Orbit","f":-0.575,"v":-30.7},{"s":"Orbit","f":-0.525,"v":-27.2},{"s":"Orbit","f":-0.475,"v":-29.0},{"s":"Orbit","f":-0.425,"v":-25.5},{"s":"Orbit","f":-0.375,"v":-25.5},{"s":"Orbit","f":-0.325,"v":-22.9},
{"s":"Orbit","f":0.325,"v":-25.6},{"s":"Orbit","f":0.375,"v":-22.8},{"s":"Orbit","f":0.425,"v":-25.1},{"s":"Orbit","f":0.475,"v":-23.8},{"s":"Orbit","f":0.525,"v":-26.9},{"s":"Orbit","f":0.575,"v":-25.5},{"s":"Orbit","f":0.625,"v":-27.4},{"s":"Orbit","f":0.675,"v":-26.0},{"s":"Orbit","f":0.725,"v":-29.5},{"s":"Orbit","f":0.775,"v":-27.1},{"s":"Orbit","f":0.825,"v":-30.4},{"s":"Orbit","f":0.875,"v":-28.6},{"s":"Orbit","f":0.925,"v":-31.7},{"s":"Orbit","f":0.975,"v":-31.5},{"s":"Orbit","f":1.025,"v":-32.7},{"s":"Orbit","f":1.075,"v":-31.2},{"s":"Orbit","f":1.125,"v":-34.4},{"s":"Orbit","f":1.175,"v":-32.0},{"s":"Orbit","f":1.225,"v":-35.7},{"s":"Orbit","f":1.275,"v":-33.5},{"s":"Orbit","f":1.325,"v":-36.0},{"s":"Orbit","f":1.375,"v":-34.7},{"s":"Orbit","f":1.425,"v":-36.7},{"s":"Orbit","f":1.475,"v":-34.2},{"s":"Orbit","f":1.525,"v":-38.5},{"s":"Orbit","f":1.575,"v":-35.7},{"s":"Orbit","f":1.625,"v":-37.9},{"s":"Orbit","f":1.675,"v":-35.6},{"s":"Orbit","f":1.725,"v":-38.6},{"s":"Orbit","f":1.775,"v":-36.7},{"s":"Orbit","f":1.825,"v":-39.2},{"s":"Orbit","f":1.875,"v":-37.9},{"s":"Orbit","f":1.925,"v":-39.1},{"s":"Orbit","f":1.975,"v":-36.2},{"s":"Orbit","f":2.025,"v":-38.6},{"s":"Orbit","f":2.075,"v":-37.5},{"s":"Orbit","f":2.125,"v":-40.7},{"s":"Orbit","f":2.175,"v":-37.0},{"s":"Orbit","f":2.225,"v":-38.9},{"s":"Orbit","f":2.275,"v":-37.7},{"s":"Orbit","f":2.325,"v":-39.1},{"s":"Orbit","f":2.375,"v":-35.6},{"s":"Orbit","f":2.425,"v":-39.9},{"s":"Orbit","f":2.475,"v":-37.4},{"s":"Orbit","f":2.525,"v":-38.6},{"s":"Orbit","f":2.575,"v":-37.8},{"s":"Orbit","f":2.625,"v":-39.5},{"s":"Orbit","f":2.675,"v":-36.5},{"s":"Orbit","f":2.725,"v":-40.4},{"s":"Orbit","f":2.775,"v":-38.7},{"s":"Orbit","f":2.825,"v":-40.4},{"s":"Orbit","f":2.875,"v":-36.4},{"s":"Orbit","f":2.925,"v":-38.8},{"s":"Orbit","f":2.975,"v":-38.6}
],
"pts": [
{"s":"Orbit","x":-400,"y":1.5},{"s":"Orbit","x":-390,"y":1.5},{"s":"Orbit","x":-380,"y":1.5},{"s":"Orbit","x":-370,"y":1.5},{"s":"Orbit","x":-360,"y":1.5},{"s":"Orbit","x":-350,"y":1.5},{"s":"Orbit","x":-340,"y":1.5},{"s":"Orbit","x":-330,"y":1.5},{"s":"Orbit","x":-320,"y":1.5},{"s":"Orbit","x":-310,"y":1.5},{"s":"Orbit","x":-300,"y":1.5},{"s":"Orbit","x":-290,"y":1.5},{"s":"Orbit","x":-280,"y":1.5},{"s":"Orbit","x":-270,"y":1.5},{"s":"Orbit","x":-260,"y":1.5},{"s":"Orbit","x":-250,"y":1.5},{"s":"Orbit","x":-240,"y":1.5},{"s":"Orbit","x":-230,"y":1.5},{"s":"Orbit","x":-220,"y":1.5},{"s":"Orbit","x":-210,"y":1.5},{"s":"Orbit","x":-200,"y":1.5},{"s":"Orbit","x":-190,"y":1.5},{"s":"Orbit","x":-180,"y":1.5},{"s":"Orbit","x":-170,"y":1.5},{"s":"Orbit","x":-160,"y":1.51},{"s":"Orbit","x":-150,"y":1.51},
{"s":"Orbit","x":-143,"y":1.53},{"s":"Orbit","x":-134,"y":1.55},{"s":"Orbit","x":-125,"y":1.62},{"s":"Orbit","x":-119,"y":1.72},{"s":"Orbit","x":-110,"y":1.80},{"s":"Orbit","x":-104,"y":1.83},{"s":"Orbit","x":-97,"y":1.81},{"s":"Orbit","x":-92,"y":1.70},{"s":"Orbit","x":-89,"y":1.65},{"s":"Orbit","x":-83,"y":1.78},{"s":"Orbit","x":-77,"y":1.86},{"s":"Orbit","x":-71,"y":1.88},{"s":"Orbit","x":-65,"y":1.95},{"s":"Orbit","x":-58,"y":1.96},{"s":"Orbit","x":-53,"y":1.92},{"s":"Orbit","x":-50,"y":1.94},{"s":"Orbit","x":-44,"y":2.00},{"s":"Orbit","x":-38,"y":2.13},{"s":"Orbit","x":-32,"y":2.23},{"s":"Orbit","x":-26,"y":2.26},{"s":"Orbit","x":-20,"y":2.27},{"s":"Orbit","x":-14,"y":2.47},{"s":"Orbit","x":-8,"y":2.48},{"s":"Orbit","x":-5,"y":2.57},{"s":"Orbit","x":1,"y":2.48},{"s":"Orbit","x":7,"y":2.20},{"s":"Orbit","x":13,"y":2.13},{"s":"Orbit","x":19,"y":2.36},{"s":"Orbit","x":25,"y":2.30},{"s":"Orbit","x":31,"y":2.25},{"s":"Orbit","x":37,"y":2.20},{"s":"Orbit","x":42,"y":2.14},{"s":"Orbit","x":46,"y":2.09},{"s":"Orbit","x":52,"y":2.03},{"s":"Orbit","x":58,"y":1.95},{"s":"Orbit","x":64,"y":1.88},{"s":"Orbit","x":67,"y":1.83},{"s":"Orbit","x":73,"y":1.76},{"s":"Orbit","x":80,"y":1.76},{"s":"Orbit","x":87,"y":1.73},{"s":"Orbit","x":92,"y":1.72},{"s":"Orbit","x":98,"y":1.71},{"s":"Orbit","x":105,"y":1.65},{"s":"Orbit","x":110,"y":1.62},{"s":"Orbit","x":114,"y":1.60},{"s":"Orbit","x":121,"y":1.56},{"s":"Orbit","x":128,"y":1.55},{"s":"Orbit","x":135,"y":1.54},{"s":"Orbit","x":142,"y":1.53},{"s":"Orbit","x":150,"y":1.52},{"s":"Orbit","x":160,"y":1.51},{"s":"Orbit","x":170,"y":1.51},
{"s":"Orbit","x":180,"y":1.5},{"s":"Orbit","x":190,"y":1.5},{"s":"Orbit","x":200,"y":1.5},{"s":"Orbit","x":210,"y":1.5},{"s":"Orbit","x":220,"y":1.5},{"s":"Orbit","x":230,"y":1.5},{"s":"Orbit","x":240,"y":1.5},{"s":"Orbit","x":250,"y":1.5},{"s":"Orbit","x":260,"y":1.5},{"s":"Orbit","x":270,"y":1.5},{"s":"Orbit","x":280,"y":1.5},{"s":"Orbit","x":290,"y":1.5},{"s":"Orbit","x":300,"y":1.5},{"s":"Orbit","x":310,"y":1.5},{"s":"Orbit","x":320,"y":1.5},{"s":"Orbit","x":330,"y":1.5},{"s":"Orbit","x":340,"y":1.5},{"s":"Orbit","x":350,"y":1.5},{"s":"Orbit","x":360,"y":1.5},{"s":"Orbit","x":370,"y":1.5},{"s":"Orbit","x":380,"y":1.5},{"s":"Orbit","x":390,"y":1.5},{"s":"Orbit","x":400,"y":1.5},
{"s":"Rock","x":-400,"y":1.01},{"s":"Rock","x":-390,"y":1.01},{"s":"Rock","x":-380,"y":1.01},{"s":"Rock","x":-370,"y":1.01},{"s":"Rock","x":-360,"y":1.01},{"s":"Rock","x":-350,"y":1.01},{"s":"Rock","x":-340,"y":1.01},{"s":"Rock","x":-330,"y":1.01},{"s":"Rock","x":-320,"y":1.01},{"s":"Rock","x":-310,"y":1.01},{"s":"Rock","x":-300,"y":1.01},{"s":"Rock","x":-290,"y":1.01},{"s":"Rock","x":-280,"y":1.01},{"s":"Rock","x":-270,"y":1.01},{"s":"Rock","x":-260,"y":1.01},{"s":"Rock","x":-250,"y":1.01},{"s":"Rock","x":-240,"y":1.01},{"s":"Rock","x":-230,"y":1.01},{"s":"Rock","x":-220,"y":1.01},{"s":"Rock","x":-210,"y":1.01},{"s":"Rock","x":-200,"y":1.01},{"s":"Rock","x":-190,"y":1.01},{"s":"Rock","x":-180,"y":1.01},{"s":"Rock","x":-170,"y":1.02},{"s":"Rock","x":-160,"y":1.02},
{"s":"Rock","x":-152,"y":1.07},{"s":"Rock","x":-145,"y":1.06},{"s":"Rock","x":-138,"y":1.07},{"s":"Rock","x":-128,"y":1.08},{"s":"Rock","x":-121,"y":1.10},{"s":"Rock","x":-114,"y":1.13},{"s":"Rock","x":-108,"y":1.19},{"s":"Rock","x":-102,"y":1.22},{"s":"Rock","x":-97,"y":1.26},{"s":"Rock","x":-90,"y":1.20},{"s":"Rock","x":-83,"y":1.21},{"s":"Rock","x":-80,"y":1.37},{"s":"Rock","x":-74,"y":1.47},{"s":"Rock","x":-68,"y":1.52},{"s":"Rock","x":-65,"y":1.56},{"s":"Rock","x":-58,"y":1.53},{"s":"Rock","x":-50,"y":1.60},{"s":"Rock","x":-47,"y":1.65},{"s":"Rock","x":-42,"y":1.65},{"s":"Rock","x":-38,"y":1.72},{"s":"Rock","x":-35,"y":1.71},{"s":"Rock","x":-32,"y":1.79},{"s":"Rock","x":-23,"y":1.85},{"s":"Rock","x":-17,"y":1.74},{"s":"Rock","x":-11,"y":1.88},{"s":"Rock","x":-5,"y":2.01},{"s":"Rock","x":1,"y":1.84},{"s":"Rock","x":7,"y":1.62},{"s":"Rock","x":14,"y":1.60},{"s":"Rock","x":19,"y":1.57},{"s":"Rock","x":23,"y":1.52},{"s":"Rock","x":27,"y":1.53},{"s":"Rock","x":31,"y":1.51},{"s":"Rock","x":36,"y":1.53},{"s":"Rock","x":42,"y":1.54},{"s":"Rock","x":49,"y":1.57},{"s":"Rock","x":52,"y":1.55},{"s":"Rock","x":58,"y":1.45},{"s":"Rock","x":62,"y":1.42},{"s":"Rock","x":66,"y":1.35},{"s":"Rock","x":72,"y":1.28},{"s":"Rock","x":77,"y":1.26},{"s":"Rock","x":83,"y":1.23},{"s":"Rock","x":88,"y":1.21},{"s":"Rock","x":93,"y":1.18},{"s":"Rock","x":98,"y":1.14},{"s":"Rock","x":103,"y":1.10},{"s":"Rock","x":108,"y":1.08},{"s":"Rock","x":114,"y":1.07},{"s":"Rock","x":121,"y":1.06},{"s":"Rock","x":128,"y":1.05},{"s":"Rock","x":135,"y":1.05},{"s":"Rock","x":141,"y":1.05},{"s":"Rock","x":148,"y":1.04},{"s":"Rock","x":155,"y":1.04},
{"s":"Rock","x":162,"y":1.02},{"s":"Rock","x":170,"y":1.02},{"s":"Rock","x":180,"y":1.01},{"s":"Rock","x":190,"y":1.01},{"s":"Rock","x":200,"y":1.01},{"s":"Rock","x":210,"y":1.01},{"s":"Rock","x":220,"y":1.01},{"s":"Rock","x":230,"y":1.01},{"s":"Rock","x":240,"y":1.01},{"s":"Rock","x":250,"y":1.01},{"s":"Rock","x":260,"y":1.01},{"s":"Rock","x":270,"y":1.01},{"s":"Rock","x":280,"y":1.01},{"s":"Rock","x":290,"y":1.01},{"s":"Rock","x":300,"y":1.01},{"s":"Rock","x":310,"y":1.01},{"s":"Rock","x":320,"y":1.01},{"s":"Rock","x":330,"y":1.01},{"s":"Rock","x":340,"y":1.01},{"s":"Rock","x":350,"y":1.01},{"s":"Rock","x":360,"y":1.01},{"s":"Rock","x":370,"y":1.01},{"s":"Rock","x":380,"y":1.01},{"s":"Rock","x":390,"y":1.01},{"s":"Rock","x":400,"y":1.01},
{"s":"Basik","x":-400,"y":0.5},{"s":"Basik","x":-390,"y":0.5},{"s":"Basik","x":-380,"y":0.5},{"s":"Basik","x":-370,"y":0.5},{"s":"Basik","x":-360,"y":0.5},{"s":"Basik","x":-350,"y":0.5},{"s":"Basik","x":-340,"y":0.5},{"s":"Basik","x":-330,"y":0.5},{"s":"Basik","x":-320,"y":0.5},{"s":"Basik","x":-310,"y":0.5},{"s":"Basik","x":-300,"y":0.5},{"s":"Basik","x":-290,"y":0.5},{"s":"Basik","x":-280,"y":0.5},{"s":"Basik","x":-270,"y":0.5},{"s":"Basik","x":-260,"y":0.5},{"s":"Basik","x":-250,"y":0.5},{"s":"Basik","x":-240,"y":0.5},{"s":"Basik","x":-230,"y":0.5},{"s":"Basik","x":-220,"y":0.5},{"s":"Basik","x":-210,"y":0.5},{"s":"Basik","x":-200,"y":0.5},{"s":"Basik","x":-190,"y":0.5},{"s":"Basik","x":-180,"y":0.51},{"s":"Basik","x":-170,"y":0.51},{"s":"Basik","x":-162,"y":0.52},
{"s":"Basik","x":-155,"y":0.53},{"s":"Basik","x":-145,"y":0.54},{"s":"Basik","x":-137,"y":0.55},{"s":"Basik","x":-128,"y":0.57},{"s":"Basik","x":-119,"y":0.59},{"s":"Basik","x":-112,"y":0.60},{"s":"Basik","x":-107,"y":0.61},{"s":"Basik","x":-101,"y":0.65},{"s":"Basik","x":-95,"y":0.66},{"s":"Basik","x":-90,"y":0.68},{"s":"Basik","x":-86,"y":0.69},{"s":"Basik","x":-80,"y":0.74},{"s":"Basik","x":-75,"y":0.77},{"s":"Basik","x":-71,"y":0.78},{"s":"Basik","x":-66,"y":0.88},{"s":"Basik","x":-65,"y":0.93},{"s":"Basik","x":-60,"y":0.98},{"s":"Basik","x":-57,"y":1.0},{"s":"Basik","x":-53,"y":0.94},{"s":"Basik","x":-47,"y":0.99},{"s":"Basik","x":-42,"y":1.10},{"s":"Basik","x":-38,"y":1.04},{"s":"Basik","x":-35,"y":1.17},{"s":"Basik","x":-33,"y":1.03},{"s":"Basik","x":-31,"y":1.23},{"s":"Basik","x":-28,"y":1.04},{"s":"Basik","x":-21,"y":0.98},{"s":"Basik","x":-18,"y":1.28},{"s":"Basik","x":-16,"y":1.21},{"s":"Basik","x":-11,"y":1.40},{"s":"Basik","x":-8,"y":1.33},{"s":"Basik","x":-3,"y":1.26},{"s":"Basik","x":-2,"y":1.51},{"s":"Basik","x":4,"y":1.30},{"s":"Basik","x":7,"y":1.35},{"s":"Basik","x":10,"y":0.93},{"s":"Basik","x":13,"y":1.37},{"s":"Basik","x":15,"y":1.10},{"s":"Basik","x":19,"y":1.08},{"s":"Basik","x":20,"y":1.40},{"s":"Basik","x":25,"y":1.02},{"s":"Basik","x":27,"y":1.10},{"s":"Basik","x":31,"y":1.09},{"s":"Basik","x":34,"y":1.06},{"s":"Basik","x":36,"y":0.96},{"s":"Basik","x":41,"y":0.98},{"s":"Basik","x":43,"y":0.87},{"s":"Basik","x":50,"y":0.84},{"s":"Basik","x":55,"y":0.80},{"s":"Basik","x":61,"y":0.77},{"s":"Basik","x":67,"y":0.73},{"s":"Basik","x":73,"y":0.68},{"s":"Basik","x":80,"y":0.66},{"s":"Basik","x":87,"y":0.63},{"s":"Basik","x":93,"y":0.62},{"s":"Basik","x":100,"y":0.60},{"s":"Basik","x":106,"y":0.58},{"s":"Basik","x":113,"y":0.56},{"s":"Basik","x":120,"y":0.55},{"s":"Basik","x":130,"y":0.54},{"s":"Basik","x":140,"y":0.53},{"s":"Basik","x":150,"y":0.52},
{"s":"Basik","x":160,"y":0.51},{"s":"Basik","x":170,"y":0.51},{"s":"Basik","x":180,"y":0.5},{"s":"Basik","x":190,"y":0.5},{"s":"Basik","x":200,"y":0.5},{"s":"Basik","x":210,"y":0.5},{"s":"Basik","x":220,"y":0.5},{"s":"Basik","x":230,"y":0.5},{"s":"Basik","x":240,"y":0.5},{"s":"Basik","x":250,"y":0.5},{"s":"Basik","x":260,"y":0.5},{"s":"Basik","x":270,"y":0.5},{"s":"Basik","x":280,"y":0.5},{"s":"Basik","x":290,"y":0.5},{"s":"Basik","x":300,"y":0.5},{"s":"Basik","x":310,"y":0.5},{"s":"Basik","x":320,"y":0.5},{"s":"Basik","x":330,"y":0.5},{"s":"Basik","x":340,"y":0.5},{"s":"Basik","x":350,"y":0.5},{"s":"Basik","x":360,"y":0.5},{"s":"Basik","x":370,"y":0.5},{"s":"Basik","x":380,"y":0.5},{"s":"Basik","x":390,"y":0.5},{"s":"Basik","x":400,"y":0.5},
{"s":"RIO","x":-400,"y":0.004},{"s":"RIO","x":-390,"y":0.004},{"s":"RIO","x":-380,"y":0.004},{"s":"RIO","x":-370,"y":0.005},{"s":"RIO","x":-360,"y":0.005},{"s":"RIO","x":-350,"y":0.005},{"s":"RIO","x":-340,"y":0.005},{"s":"RIO","x":-330,"y":0.006},{"s":"RIO","x":-320,"y":0.006},{"s":"RIO","x":-310,"y":0.007},{"s":"RIO","x":-300,"y":0.007},{"s":"RIO","x":-290,"y":0.007},{"s":"RIO","x":-280,"y":0.008},{"s":"RIO","x":-270,"y":0.009},{"s":"RIO","x":-260,"y":0.009},{"s":"RIO","x":-250,"y":0.010},{"s":"RIO","x":-240,"y":0.011},{"s":"RIO","x":-230,"y":0.012},{"s":"RIO","x":-220,"y":0.013},{"s":"RIO","x":-210,"y":0.014},{"s":"RIO","x":-200,"y":0.015},{"s":"RIO","x":-190,"y":0.017},{"s":"RIO","x":-180,"y":0.019},{"s":"RIO","x":-170,"y":0.021},{"s":"RIO","x":-160,"y":0.024},{"s":"RIO","x":-150,"y":0.027},{"s":"RIO","x":-140,"y":0.031},{"s":"RIO","x":-130,"y":0.035},
{"s":"RIO","x":-120,"y":0.045},{"s":"RIO","x":-110,"y":0.05},{"s":"RIO","x":-101,"y":0.07},{"s":"RIO","x":-95,"y":0.08},{"s":"RIO","x":-88,"y":0.10},{"s":"RIO","x":-83,"y":0.12},{"s":"RIO","x":-76,"y":0.15},{"s":"RIO","x":-68,"y":0.18},{"s":"RIO","x":-64,"y":0.22},{"s":"RIO","x":-62,"y":0.25},{"s":"RIO","x":-53,"y":0.16},{"s":"RIO","x":-52,"y":0.20},{"s":"RIO","x":-44,"y":0.36},{"s":"RIO","x":-40,"y":0.45},{"s":"RIO","x":-38,"y":0.51},{"s":"RIO","x":-34,"y":0.32},{"s":"RIO","x":-31,"y":0.285},{"s":"RIO","x":-26,"y":0.42},{"s":"RIO","x":-20,"y":0.47},{"s":"RIO","x":-11,"y":0.65},{"s":"RIO","x":-7,"y":0.97},{"s":"RIO","x":-4,"y":0.93},{"s":"RIO","x":-1,"y":0.83},{"s":"RIO","x":2,"y":0.76},{"s":"RIO","x":6,"y":0.70},{"s":"RIO","x":11,"y":0.59},{"s":"RIO","x":17,"y":0.57},{"s":"RIO","x":22,"y":0.55},{"s":"RIO","x":27,"y":0.41},{"s":"RIO","x":34,"y":0.45},{"s":"RIO","x":41,"y":0.44},{"s":"RIO","x":48,"y":0.50},{"s":"RIO","x":55,"y":0.47},{"s":"RIO","x":58,"y":0.43},{"s":"RIO","x":62,"y":0.35},{"s":"RIO","x":66,"y":0.36},{"s":"RIO","x":68,"y":0.285},{"s":"RIO","x":72,"y":0.26},{"s":"RIO","x":79,"y":0.22},{"s":"RIO","x":86,"y":0.16},{"s":"RIO","x":96,"y":0.11},{"s":"RIO","x":107,"y":0.083},{"s":"RIO","x":120,"y":0.058},{"s":"RIO","x":132,"y":0.042},
{"s":"RIO","x":140,"y":0.033},{"s":"RIO","x":150,"y":0.029},{"s":"RIO","x":160,"y":0.026},{"s":"RIO","x":170,"y":0.023},{"s":"RIO","x":180,"y":0.020},{"s":"RIO","x":190,"y":0.018},{"s":"RIO","x":200,"y":0.016},{"s":"RIO","x":210,"y":0.015},{"s":"RIO","x":220,"y":0.014},{"s":"RIO","x":230,"y":0.012},{"s":"RIO","x":240,"y":0.011},{"s":"RIO","x":250,"y":0.010},{"s":"RIO","x":260,"y":0.010},{"s":"RIO","x":270,"y":0.009},{"s":"RIO","x":280,"y":0.008},{"s":"RIO","x":290,"y":0.008},{"s":"RIO","x":300,"y":0.007},{"s":"RIO","x":310,"y":0.007},{"s":"RIO","x":320,"y":0.006},{"s":"RIO","x":330,"y":0.006},{"s":"RIO","x":340,"y":0.006},{"s":"RIO","x":350,"y":0.005},{"s":"RIO","x":360,"y":0.005},{"s":"RIO","x":370,"y":0.005},{"s":"RIO","x":380,"y":0.004},{"s":"RIO","x":390,"y":0.004},{"s":"RIO","x":400,"y":0.004}
],
"fit": [
{"s":"Rock","x":-400,"y":1.0},{"s":"Rock","x":-200,"y":1.0},{"s":"Rock","x":-180,"y":1.002},{"s":"Rock","x":-160,"y":1.007},{"s":"Rock","x":-150,"y":1.013},{"s":"Rock","x":-140,"y":1.023},{"s":"Rock","x":-130,"y":1.039},{"s":"Rock","x":-120,"y":1.064},{"s":"Rock","x":-110,"y":1.099},{"s":"Rock","x":-100,"y":1.149},{"s":"Rock","x":-90,"y":1.214},{"s":"Rock","x":-80,"y":1.296},{"s":"Rock","x":-70,"y":1.393},{"s":"Rock","x":-60,"y":1.502},{"s":"Rock","x":-50,"y":1.616},{"s":"Rock","x":-40,"y":1.725},{"s":"Rock","x":-30,"y":1.821},{"s":"Rock","x":-20,"y":1.893},{"s":"Rock","x":-10,"y":1.933},{"s":"Rock","x":0,"y":1.937},{"s":"Rock","x":10,"y":1.904},{"s":"Rock","x":20,"y":1.838},{"s":"Rock","x":30,"y":1.746},{"s":"Rock","x":40,"y":1.638},{"s":"Rock","x":50,"y":1.525},{"s":"Rock","x":60,"y":1.414},{"s":"Rock","x":70,"y":1.314},{"s":"Rock","x":80,"y":1.229},{"s":"Rock","x":90,"y":1.161},{"s":"Rock","x":100,"y":1.108},{"s":"Rock","x":110,"y":1.070},{"s":"Rock","x":120,"y":1.043},{"s":"Rock","x":130,"y":1.026},{"s":"Rock","x":140,"y":1.015},{"s":"Rock","x":150,"y":1.008},{"s":"Rock","x":160,"y":1.004},{"s":"Rock","x":180,"y":1.001},{"s":"Rock","x":200,"y":1.0},{"s":"Rock","x":400,"y":1.0},
{"s":"RIO","x":-400,"y":0.004},{"s":"RIO","x":-300,"y":0.007},{"s":"RIO","x":-250,"y":0.010},{"s":"RIO","x":-200,"y":0.015},{"s":"RIO","x":-175,"y":0.020},{"s":"RIO","x":-150,"y":0.027},{"s":"RIO","x":-130,"y":0.035},{"s":"RIO","x":-120,"y":0.041},{"s":"RIO","x":-110,"y":0.048},{"s":"RIO","x":-100,"y":0.057},{"s":"RIO","x":-90,"y":0.069},{"s":"RIO","x":-80,"y":0.086},{"s":"RIO","x":-70,"y":0.108},{"s":"RIO","x":-60,"y":0.140},{"s":"RIO","x":-50,"y":0.188},{"s":"RIO","x":-40,"y":0.260},{"s":"RIO","x":-30,"y":0.376},{"s":"RIO","x":-20,"y":0.558},{"s":"RIO","x":-10,"y":0.811},{"s":"RIO","x":-5,"y":0.934},{"s":"RIO","x":0,"y":1.015},{"s":"RIO","x":5,"y":1.023},{"s":"RIO","x":10,"y":0.955},{"s":"RIO","x":20,"y":0.704},{"s":"RIO","x":30,"y":0.476},{"s":"RIO","x":40,"y":0.323},{"s":"RIO","x":50,"y":0.227},{"s":"RIO","x":60,"y":0.166},{"s":"RIO","x":70,"y":0.126},{"s":"RIO","x":80,"y":0.098},{"s":"RIO","x":90,"y":0.079},{"s":"RIO","x":100,"y":0.064},{"s":"RIO","x":110,"y":0.053},{"s":"RIO","x":120,"y":0.045},{"s":"RIO","x":130,"y":0.038},{"s":"RIO","x":150,"y":0.029},{"s":"RIO","x":175,"y":0.021},{"s":"RIO","x":200,"y":0.016},{"s":"RIO","x":250,"y":0.010},{"s":"RIO","x":300,"y":0.007},{"s":"RIO","x":400,"y":0.004},
{"s":"Basik","x":-400,"y":0.5},{"s":"Basik","x":-200,"y":0.5},{"s":"Basik","x":-180,"y":0.502},{"s":"Basik","x":-160,"y":0.506},{"s":"Basik","x":-150,"y":0.511},{"s":"Basik","x":-140,"y":0.520},{"s":"Basik","x":-130,"y":0.534},{"s":"Basik","x":-120,"y":0.555},{"s":"Basik","x":-110,"y":0.586},{"s":"Basik","x":-100,"y":0.629},{"s":"Basik","x":-90,"y":0.687},{"s":"Basik","x":-80,"y":0.760},{"s":"Basik","x":-70,"y":0.846},{"s":"Basik","x":-60,"y":0.944},{"s":"Basik","x":-50,"y":1.046},{"s":"Basik","x":-40,"y":1.146},{"s":"Basik","x":-30,"y":1.234},{"s":"Basik","x":-20,"y":1.302},{"s":"Basik","x":-10,"y":1.342},{"s":"Basik","x":0,"y":1.348},{"s":"Basik","x":10,"y":1.322},{"s":"Basik","x":20,"y":1.265},{"s":"Basik","x":30,"y":1.184},{"s":"Basik","x":40,"y":1.087},{"s":"Basik","x":50,"y":0.985},{"s":"Basik","x":60,"y":0.884},{"s":"Basik","x":70,"y":0.793},{"s":"Basik","x":80,"y":0.714},{"s":"Basik","x":90,"y":0.651},{"s":"Basik","x":100,"y":0.602},{"s":"Basik","x":110,"y":0.566},{"s":"Basik","x":120,"y":0.541},{"s":"Basik","x":130,"y":0.525},{"s":"Basik","x":140,"y":0.514},{"s":"Basik","x":150,"y":0.508},{"s":"Basik","x":160,"y":0.504},{"s":"Basik","x":180,"y":0.501},{"s":"Basik","x":200,"y":0.5},{"s":"Basik","x":400,"y":0.5},
{"s":"Orbit","x":-400,"y":1.5},{"s":"Orbit","x":-200,"y":1.501},{"s":"Orbit","x":-180,"y":1.505},{"s":"Orbit","x":-160,"y":1.514},{"s":"Orbit","x":-150,"y":1.524},{"s":"Orbit","x":-140,"y":1.540},{"s":"Orbit","x":-130,"y":1.562},{"s":"Orbit","x":-120,"y":1.595},{"s":"Orbit","x":-110,"y":1.639},{"s":"Orbit","x":-100,"y":1.697},{"s":"Orbit","x":-90,"y":1.770},{"s":"Orbit","x":-80,"y":1.858},{"s":"Orbit","x":-70,"y":1.959},{"s":"Orbit","x":-60,"y":2.067},{"s":"Orbit","x":-50,"y":2.178},{"s":"Orbit","x":-40,"y":2.283},{"s":"Orbit","x":-30,"y":2.374},{"s":"Orbit","x":-20,"y":2.442},{"s":"Orbit","x":-10,"y":2.482},{"s":"Orbit","x":0,"y":2.488},{"s":"Orbit","x":10,"y":2.462},{"s":"Orbit","x":20,"y":2.404},{"s":"Orbit","x":30,"y":2.321},{"s":"Orbit","x":40,"y":2.221},{"s":"Orbit","x":50,"y":2.112},{"s":"Orbit","x":60,"y":2.001},{"s":"Orbit","x":70,"y":1.897},{"s":"Orbit","x":80,"y":1.804},{"s":"Orbit","x":90,"y":1.725},{"s":"Orbit","x":100,"y":1.661},{"s":"Orbit","x":110,"y":1.611},{"s":"Orbit","x":120,"y":1.574},{"s":"Orbit","x":130,"y":1.548},{"s":"Orbit","x":140,"y":1.530},{"s":"Orbit","x":150,"y":1.518},{"s":"Orbit","x":160,"y":1.510},{"s":"Orbit","x":180,"y":1.503},{"s":"Orbit","x":200,"y":1.501},{"s":"Orbit","x":400,"y":1.5}
]
},
"hconcat": [
{
  "width": 471, "height": 346,
  "data": {"name": "psd"},
  "mark": {"type": "line", "clip": true, "strokeJoin": "round"},
  "encoding": {
    "x": {"field": "f", "type": "quantitative", "scale": {"domain": [-3, 3], "nice": false, "zero": false},
      "axis": {"values": [-3,-2.8,-2.6,-2.4,-2.2,-2,-1.8,-1.6,-1.4,-1.2,-1,-0.8,-0.6,-0.4,-0.2,0,0.2,0.4,0.6,0.8,1,1.2,1.4,1.6,1.8,2,2.2,2.4,2.6,2.8,3],
        "labelExpr": "abs(datum.value - round(datum.value)) < 0.001 ? toString(round(datum.value)) : ''",
        "tickSize": {"condition": {"test": "abs(datum.value - round(datum.value)) < 0.001", "value": -8}, "value": -5},
        "labelPadding": 17, "labelFontSize": 18.5, "title": "Frequency, MHz", "titleFontSize": 27, "titleY": 41.7, "titleBaseline": "top"}},
    "y": {"field": "v", "type": "quantitative", "scale": {"domain": [-45, 1], "nice": false, "zero": false},
      "axis": {"values": [-44,-42,-40,-38,-36,-34,-32,-30,-28,-26,-24,-22,-20,-18,-16,-14,-12,-10,-8,-6,-4,-2,0],
        "labelExpr": "datum.value % 10 === 0 ? toString(datum.value) : ''",
        "tickSize": {"condition": {"test": "datum.value % 10 === 0", "value": -7}, "value": -4},
        "labelPadding": 15, "labelFontSize": 18.5, "title": "Power Spectral Density,\u00a0 dB/Hz", "titleFontSize": 26, "titleX": -65.3, "titleY": 190.5, "titleBaseline": "bottom"}},
    "color": {"field": "s", "type": "nominal", "scale": {"domain": ["Rock", "RIO", "Basik", "Orbit"], "range": ["#ff0000", "#0000ff", "#000000", "#00ff00"]},
      "legend": {"title": null, "orient": "none", "legendX": 339.25, "legendY": 28.9, "symbolType": "M-2,0L2,0", "symbolSize": 600, "rowPadding": 4.0, "labelOffset": 24.5, "labelFontSize": 21,
        "encode": {"symbols": {"update": {"strokeWidth": {"signal": "datum.value === 'RIO' ? 3.2 : 1.6"}, "fill": {"value": "transparent"}}}}}},
    "strokeWidth": {"condition": {"test": "datum.s === 'RIO'", "value": 2.1}, "value": 1.3}
  }
},
{
  "width": 445, "height": 360,
  "encoding": {
    "x": {"field": "x", "type": "quantitative", "scale": {"domain": [-400, 400], "nice": false, "zero": false},
      "axis": {"values": [-400,-380,-360,-340,-320,-300,-280,-260,-240,-220,-200,-180,-160,-140,-120,-100,-80,-60,-40,-20,0,20,40,60,80,100,120,140,160,180,200,220,240,260,280,300,320,340,360,380,400],
        "labelExpr": "datum.value % 100 === 0 ? toString(datum.value) : ''",
        "tickSize": {"condition": {"test": "datum.value % 100 === 0", "value": -7}, "value": -4},
        "labelPadding": 17, "labelFontSize": 20, "title": "Frequency, kHz", "titleFontSize": 27, "titleY": 34.7, "titleX": 232.8, "titleBaseline": "top"}},
    "y": {"field": "y", "type": "quantitative", "scale": {"domain": [-0.12, 2.61], "nice": false, "zero": false},
      "axis": {"values": [-0.08,-0.04,0,0.04,0.08,0.12,0.16,0.2,0.24,0.28,0.32,0.36,0.4,0.44,0.48,0.52,0.56,0.6,0.64,0.68,0.72,0.76,0.8,0.84,0.88,0.92,0.96,1,1.04,1.08,1.12,1.16,1.2,1.24,1.28,1.32,1.36,1.4,1.44,1.48,1.52,1.56,1.6,1.64,1.68,1.72,1.76,1.8,1.84,1.88,1.92,1.96,2,2.04,2.08,2.12,2.16,2.2,2.24,2.28,2.32,2.36,2.4,2.44,2.48,2.52,2.56,2.6],
        "labelExpr": "abs(datum.value*5 - round(datum.value*5)) < 0.001 ? format(datum.value, '.1f') : ''",
        "tickSize": {"condition": {"test": "abs(datum.value*5 - round(datum.value*5)) < 0.001", "value": -7}, "value": -4},
        "labelPadding": 15.5, "labelFontSize": 20, "title": "Spectral density, a.u.", "titleFontSize": 28, "titleX": -62.5, "titleY": 186, "titleBaseline": "bottom"}}
  },
  "layer": [
    {"data": {"name": "pts"}, "transform": [{"filter": "datum.s === 'Orbit'"}],
     "mark": {"type": "point", "shape": "M0,-1L0.235,-0.324L0.951,-0.309L0.38,0.124L0.588,0.809L0,0.4L-0.588,0.809L-0.38,0.124L-0.951,-0.309L-0.235,-0.324Z", "filled": true, "color": "#00ff00", "opacity": 1, "strokeWidth": 0},
     "encoding": {"size": {"condition": {"test": "abs(datum.x) <= 135", "value": 130}, "value": 80}}},
    {"data": {"name": "pts"}, "transform": [{"filter": "datum.s === 'Rock'"}],
     "mark": {"type": "point", "shape": "circle", "filled": false, "color": "#ff0000", "opacity": 1, "strokeWidth": 1},
     "encoding": {"size": {"condition": {"test": "abs(datum.x) <= 158", "value": 50}, "value": 30}}},
    {"data": {"name": "pts"}, "transform": [{"filter": "datum.s === 'Basik'"}],
     "mark": {"type": "point", "shape": "diamond", "filled": true, "color": "#000000", "opacity": 1, "strokeWidth": 0},
     "encoding": {"size": {"condition": {"test": "abs(datum.x) <= 125", "value": 110}, "value": 90}}},
    {"data": {"name": "pts"}, "transform": [{"filter": "datum.s === 'RIO'"}],
     "mark": {"type": "point", "shape": "square", "filled": true, "color": "#0000ff", "opacity": 1, "strokeWidth": 0},
     "encoding": {"size": {"condition": {"test": "abs(datum.x) <= 125", "value": 70}, "value": 60}}},
    {"data": {"name": "fit"},
     "mark": {"type": "line", "interpolate": "monotone"},
     "encoding": {
       "color": {"field": "s", "type": "nominal", "scale": {"domain": ["Rock", "RIO", "Basik", "Orbit"], "range": ["#ff0000", "#0000ff", "#000000", "#00ff00"]},
         "legend": {"title": null, "orient": "none", "legendX": 335, "legendY": 14.5, "symbolType": "M-2,0L2,0", "symbolSize": 650, "rowPadding": 4.8, "labelOffset": 22, "labelFontSize": 21,
           "encode": {"symbols": {"update": {"strokeWidth": {"signal": "datum.value === 'Orbit' ? 2.5 : datum.value === 'Basik' ? 3.3 : 4"}, "fill": {"value": "transparent"}}}}}},
       "strokeWidth": {"condition": [{"test": "datum.s === 'Basik'", "value": 2.2}, {"test": "datum.s === 'Orbit'", "value": 1.8}], "value": 3.3}
     }}
  ]
}
]
}
